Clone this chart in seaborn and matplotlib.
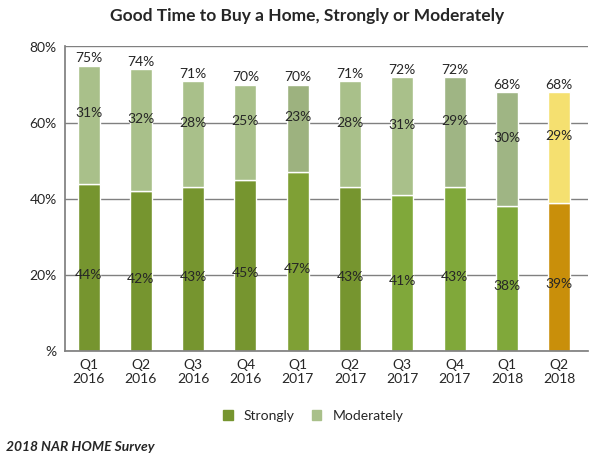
import matplotlib
matplotlib.use("Agg")
import matplotlib.pyplot as plt
import seaborn as sns
import numpy as np
from matplotlib.patches import Patch

quarters = ["Q1\n2016", "Q2\n2016", "Q3\n2016", "Q4\n2016", "Q1\n2017",
            "Q2\n2017", "Q3\n2017", "Q4\n2017", "Q1\n2018", "Q2\n2018"]
strongly = [44, 42, 43, 45, 47, 43, 41, 43, 38, 39]
moderately = [31, 32, 28, 25, 23, 28, 31, 29, 30, 29]
total = [75, 74, 71, 70, 70, 71, 72, 72, 68, 68]

strong_colors = ["#76952F"] * 4 + ["#7FA035", "#76952F", "#80A83A", "#80A83A", "#80A83A", "#C98F0A"]
mod_colors = ["#A9C08A"] * 4 + ["#9DB27F", "#A9C08A", "#A9C08A", "#9FB584", "#9FB584", "#F5E070"]

sns.set_theme(style="white")
plt.rcParams["font.family"] = ["Lato", "DejaVu Sans"]

fig = plt.figure(figsize=(5.91, 4.65), dpi=100)
ax = fig.add_axes([0.11, 0.245, 0.885, 0.655])

x = np.arange(len(quarters))
# top segment drawn up to the labelled total
top_h = [t - s for t, s in zip(total, strongly)]
ax.bar(x, strongly, width=0.42, color=strong_colors, zorder=2)
ax.bar(x, top_h, bottom=strongly, width=0.42, color=mod_colors, zorder=2)

for i in x:
    ax.text(i, strongly[i] / 2 - 2, f"{strongly[i]}%", ha="center", va="center", fontsize=10, zorder=3)
    ax.text(i, strongly[i] + top_h[i] / 2 + 3, f"{moderately[i]}%", ha="center", va="center", fontsize=10, zorder=3)
    ax.text(i, total[i] + 0.3, f"{total[i]}%", ha="center", va="bottom", fontsize=10, zorder=3)

ax.set_ylim(0, 80)
ax.set_yticks([0, 20, 40, 60, 80])
ax.set_yticklabels(["%", "20%", "40%", "60%", "80%"], fontsize=10)
ax.set_xticks(x)
ax.set_xticklabels(quarters, fontsize=10)
ax.set_xlim(-0.45, 9.55)
ax.yaxis.grid(True, color="#808080", linewidth=1)
ax.set_axisbelow(True)
for s in ["top", "right"]:
    ax.spines[s].set_visible(False)
ax.spines["left"].set_color("#808080")
ax.spines["bottom"].set_color("#808080")
ax.tick_params(axis="both", length=0, pad=6)

fig.text(0.52, 0.965, "Good Time to Buy a Home, Strongly or Moderately",
         ha="center", va="center", fontsize=12.5, fontweight="bold")
handles = [Patch(color="#76952F", label="Strongly"), Patch(color="#A9C08A", label="Moderately")]
fig.legend(handles=handles, loc="center", bbox_to_anchor=(0.53, 0.105), ncol=2,
           frameon=False, fontsize=10, handlelength=0.7, handleheight=0.7, columnspacing=1.2)
fig.text(0.01, 0.03, "2018 NAR HOME Survey", fontsize=10, fontweight="bold", fontstyle="italic")

fig.savefig("out.png", dpi=100)
